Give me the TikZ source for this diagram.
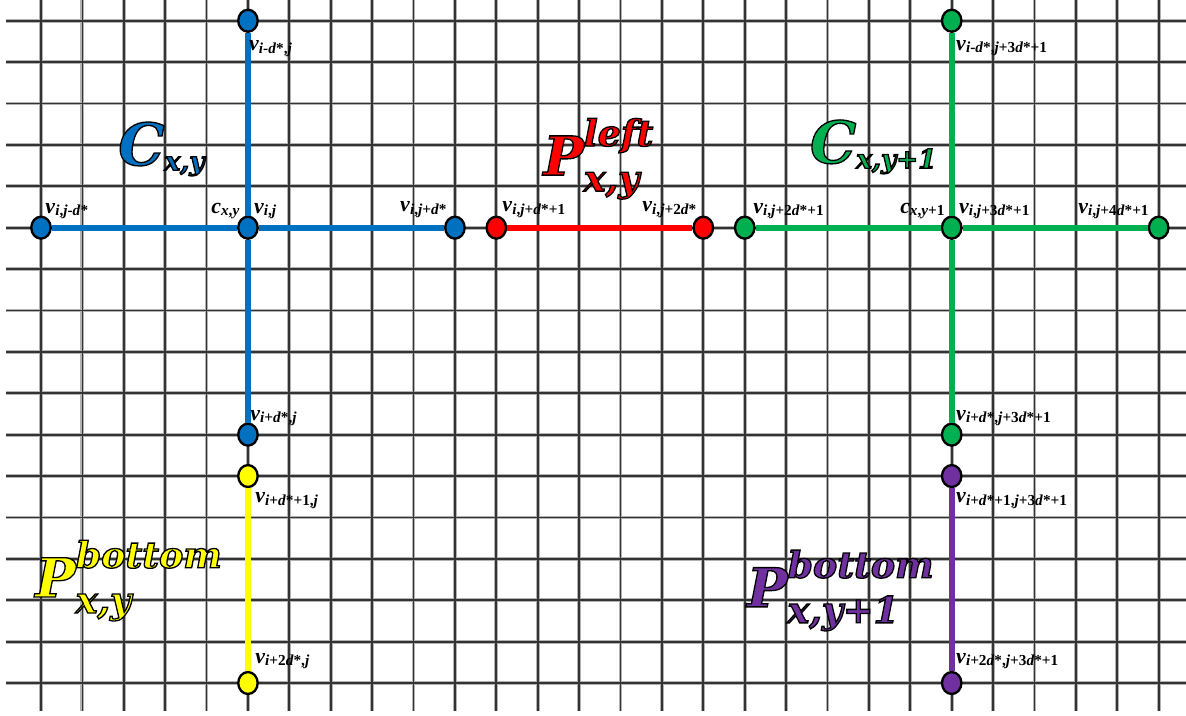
\documentclass[tikz,border=0pt]{standalone}
\usepackage{fontspec}
\setmainfont{Liberation Serif}
\newfontfamily\bigfont{DejaVu Serif}
\usetikzlibrary{shapes.geometric, positioning, calc}
\definecolor{cblue}{RGB}{0,112,192}
\definecolor{cred}{RGB}{255,0,0}
\definecolor{cgreen}{RGB}{0,176,80}
\definecolor{cyellow}{RGB}{255,255,0}
\definecolor{cpurple}{RGB}{112,48,160}
% italic letters inside the small subscripts
\newcommand{\Si}{\textit{i}}
\newcommand{\Sj}{\textit{j}}
\newcommand{\Sd}{\textit{d}}
\newcommand{\vlab}[2][v]{{\fontsize{15}{15}\selectfont\textit{#1}}\raisebox{-1.5pt}{\fontsize{10.5}{10.5}\selectfont #2}}
% black outline round filled text
\newcommand{\outl}[1]{\special{pdf:literal direct 0 0 0 RG 0.9 w 2 Tr}#1\special{pdf:literal direct 0 Tr}}
\newcommand{\Plab}[3]{{\fontsize{37}{37}\selectfont #1}\rlap{\raisebox{20pt}{\fontsize{25}{25}\selectfont #2}}\raisebox{-11pt}{\fontsize{25}{25}\selectfont #3}}
\newcommand{\Clab}[2]{{\fontsize{40}{40}\selectfont #1}\raisebox{-3.5pt}{\fontsize{18}{18}\selectfont #2}}

\begin{document}
\begin{tikzpicture}[
  x=1cm, y=1cm,
  gridhalo/.style={black!30, line width=2.6pt},
  gridcore/.style={black!80, line width=1.2pt},
  vtx/.style={ellipse, draw=black, line width=1.6pt, minimum width=0.47cm,
              minimum height=0.53cm, inner sep=0pt},
  edge/.style={line width=4pt},
  vlabel/.style={anchor=base west, inner sep=0pt, font=\bfseries},
  biglabel/.style={anchor=base west, inner sep=0pt, font=\bigfont\bfseries\itshape}
]
  \useasboundingbox (-0.99,-0.773) rectangle (27.66,16.5);
  % grid
  \foreach \gy in {0,...,16} \draw[gridhalo] (-0.845,\gy) -- (27.66,\gy);
  \foreach \gx in {0,...,27} \draw[gridhalo] (\gx,-0.68) -- (\gx,16.5);
  \foreach \gy in {0,...,16} \draw[gridcore] (-0.845,\gy) -- (27.66,\gy);
  \foreach \gx in {0,...,27} \draw[gridcore] (\gx,-0.68) -- (\gx,16.5);

  % cluster C_{x,y}
  \node[vtx, fill=cblue] (bc) at (5,11) {};
  \node[vtx, fill=cblue] (bl) at (0,11) {};
  \node[vtx, fill=cblue] (br) at (10,11) {};
  \node[vtx, fill=cblue] (bt) at (5,16) {};
  \node[vtx, fill=cblue] (bb) at (5,6) {};
  % path P^left
  \node[vtx, fill=cred] (rl) at (11,11) {};
  \node[vtx, fill=cred] (rr) at (16,11) {};
  % cluster C_{x,y+1}
  \node[vtx, fill=cgreen] (gc) at (22,11) {};
  \node[vtx, fill=cgreen] (gl) at (17,11) {};
  \node[vtx, fill=cgreen] (gr) at (27,11) {};
  \node[vtx, fill=cgreen] (gt) at (22,16) {};
  \node[vtx, fill=cgreen] (gb) at (22,6) {};
  % paths P^bottom
  \node[vtx, fill=cyellow] (yt) at (5,5) {};
  \node[vtx, fill=cyellow] (yb) at (5,0) {};
  \node[vtx, fill=cpurple] (pt) at (22,5) {};
  \node[vtx, fill=cpurple] (pb) at (22,0) {};

  \draw[edge, cblue] (bl) -- (bc);
  \draw[edge, cblue] (bc) -- (br);
  \draw[edge, cblue] (bt) -- (bc);
  \draw[edge, cblue] (bc) -- (bb);
  \draw[edge, cred] (rl) -- (rr);
  \draw[edge, cgreen] (gl) -- (gc);
  \draw[edge, cgreen] (gc) -- (gr);
  \draw[edge, cgreen] (gt) -- (gc);
  \draw[edge, cgreen] (gc) -- (gb);
  \draw[edge, cyellow] (yt) -- (yb);
  \draw[edge, cpurple] (pt) -- (pb);

  % vertex labels
  \node[vlabel] (lbt) at (5.02,15.27) {\vlab{\Si-\Sd*,\Sj}};
  \node[vlabel] (lbl) at (0.10,11.35) {\vlab{\Si,\Sj-\Sd*}};
  \node[vlabel] (lcb) at (4.11,11.35) {\vlab[c]{\textit{x},\textit{y}}};
  \node[vlabel] (lbc) at (5.14,11.35) {\vlab{\Si,\Sj}};
  \node[vlabel] (lbr) at (8.67,11.38) {\vlab{\Si,\Sj+\Sd*}};
  \node[vlabel] (lrl) at (11.14,11.38) {\vlab{\Si,\Sj+\Sd*+1}};
  \node[vlabel] (lrr) at (14.52,11.38) {\vlab{\Si,\Sj+2\Sd*}};
  \node[vlabel] (lgl) at (17.20,11.35) {\vlab{\Si,\Sj+2\Sd*+1}};
  \node[vlabel] (lcg) at (20.75,11.35) {\vlab[c]{\textit{x},\textit{y}+1}};
  \node[vlabel] (lgc) at (22.17,11.35) {\vlab{\Si,\Sj+3\Sd*+1}};
  \node[vlabel] (lgr) at (25.05,11.35) {\vlab{\Si,\Sj+4\Sd*+1}};
  \node[vlabel] (lgt) at (22.10,15.29) {\vlab{\Si-\Sd*,\Sj+3\Sd*+1}};
  \node[vlabel] (lbb) at (5.05,6.35) {\vlab{\Si+\Sd*,\Sj}};
  \node[vlabel] (lyt) at (5.17,4.35) {\vlab{\Si+\Sd*+1,\Sj}};
  \node[vlabel] (lyb) at (5.17,0.48) {\vlab{\Si+2\Sd*,\Sj}};
  \node[vlabel] (lgb) at (22.10,6.35) {\vlab{\Si+\Sd*,\Sj+3\Sd*+1}};
  \node[vlabel] (lpt) at (22.10,4.35) {\vlab{\Si+\Sd*+1,\Sj+3\Sd*+1}};
  \node[vlabel] (lpb) at (22.10,0.48) {\vlab{\Si+2\Sd*,\Sj+3\Sd*+1}};

  % cluster and path names
  \node[biglabel, text=cblue] (tcb) at (1.86,12.51) {\outl{\Clab{C}{x,y}}};
  \node[biglabel, text=cgreen] (tcg) at (18.57,12.56) {\outl{\Clab{C}{x,y+1}}};
  \node[biglabel, text=cred] (tpl) at (12.13,12.27) {\outl{\Plab{P}{left}{x,y}}};
  \node[biglabel, text=cyellow] (tpb) at (-0.145,2.08) {\outl{\Plab{P}{bottom}{x,y}}};
  \node[biglabel, text=cpurple] (tpp) at (17.05,1.84) {\outl{\Plab{P}{bottom}{x,y+1}}};
\end{tikzpicture}
\end{document}
